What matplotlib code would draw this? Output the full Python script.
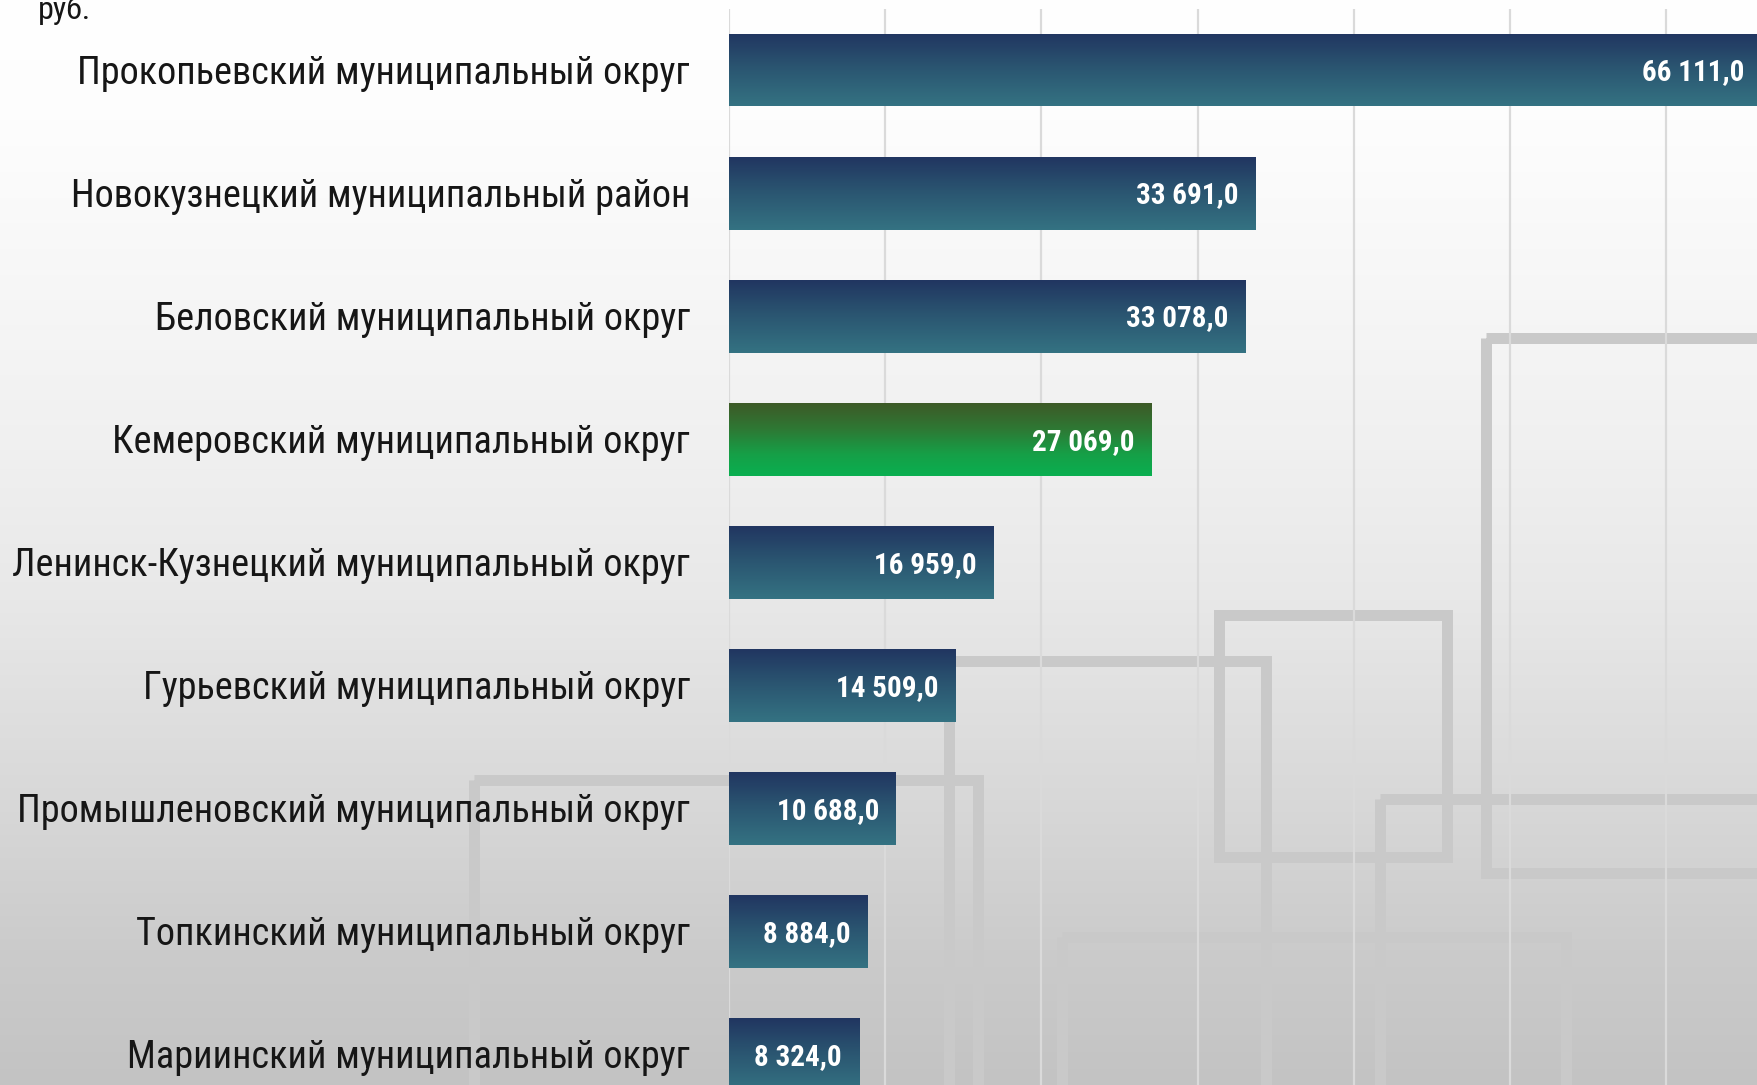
import numpy as np
import matplotlib
matplotlib.use("Agg")
import matplotlib.pyplot as plt
from matplotlib.colors import LinearSegmentedColormap
from matplotlib.patches import Rectangle

# ---------------- data ----------------
categories = [
    "Прокопьевский муниципальный округ",
    "Новокузнецкий муниципальный район",
    "Беловский муниципальный округ",
    "Кемеровский муниципальный округ",
    "Ленинск-Кузнецкий муниципальный округ",
    "Гурьевский муниципальный округ",
    "Промышленовский муниципальный округ",
    "Топкинский муниципальный округ",
    "Мариинский муниципальный округ",
]
values = [66111.0, 33691.0, 33078.0, 27069.0, 16959.0, 14509.0, 10688.0, 8884.0, 8324.0]
highlight = "Кемеровский муниципальный округ"
unit_label = "руб."

W, H = 1758, 1085
DPI = 100
NARROW = ["Roboto Condensed", "PT Sans Narrow", "DejaVu Sans"]

def fmt(v):
    s = f"{v:,.1f}"
    return s.replace(",", " ").replace(".", ",")

fig = plt.figure(figsize=(W / DPI, H / DPI), dpi=DPI)

# ---------------- background ----------------
bg = fig.add_axes([0, 0, 1, 1], zorder=0)
bg.set_xlim(0, W)
bg.set_ylim(H, 0)
bg.axis("off")
stops_y = [0, 120, 300, 450, 600, 800, 950, 1085]
stops_v = [255, 253, 246, 240, 232, 216, 203, 195]
col = np.interp(np.arange(H), stops_y, stops_v) / 255.0
grad = np.repeat(col[:, None], 2, axis=1)
bg.imshow(np.dstack([grad, grad, grad]), extent=(0, W, H, 0), aspect="auto",
          interpolation="bilinear", zorder=0)

# decorative square frames (outer left, outer top, outer right, outer bottom) in pixels
frames = [
    (1481, 332, 1900, 878),
    (1214, 609, 1453, 862),
    (944, 655, 1272, 1200),
    (1375, 793, 1900, 1200),
    (1057, 931, 1572, 1200),
    (469, 774, 984, 1200),
]
lw_px = 11
for (x0, y0, x1, y1) in frames:
    r = Rectangle((x0 + lw_px / 2, y0 + lw_px / 2), (x1 - x0) - lw_px, (y1 - y0) - lw_px,
                  fill=False, edgecolor="#c9c9c9", linewidth=lw_px * 72 / DPI,
                  joinstyle="miter", zorder=1)
    bg.add_patch(r)

# ---------------- main axes ----------------
left_px = 729
top_px = 8.5
ax = fig.add_axes([left_px / W, 0, 1 - left_px / W, (H - top_px) / H], zorder=2)
ax.patch.set_alpha(0)

y = np.arange(len(categories))
bar_h = 0.593
xmax = 65880

blue_cmap = LinearSegmentedColormap.from_list(
    "b", [(0, "#213661"), (0.45, "#2a5470"), (1.0, "#347282")])
green_cmap = LinearSegmentedColormap.from_list(
    "g", [(0, "#3d5a27"), (0.35, "#2e7834"), (0.7, "#169f47"), (1.0, "#0aaf50")])

bars = ax.barh(y, values, height=bar_h, color="none", edgecolor="none", zorder=3)
gy = np.linspace(0, 1, 64)
for cat, v, yi, b in zip(categories, values, y, bars):
    cmap = green_cmap if cat == highlight else blue_cmap
    img = cmap(gy)[:, None, :]
    im = ax.imshow(img, extent=(0, v, yi - bar_h / 2, yi + bar_h / 2), origin="lower",
                   aspect="auto", interpolation="bilinear", zorder=3)
    im.set_clip_path(b)
    ax.annotate(fmt(v), xy=(v, yi), xytext=(-17, -10.5), textcoords="offset pixels",
                ha="right", va="baseline", color="white", fontsize=21,
                fontweight="bold", family=NARROW, zorder=5, annotation_clip=False)
    ax.annotate(cat, xy=(0, yi), xytext=(-39, -14), textcoords="offset pixels",
                ha="right", va="baseline", color="#161616", fontsize=27.5,
                family=NARROW, zorder=5, annotation_clip=False)

ax.set_xticks(np.arange(0, 70001, 10000))
ax.set_xlim(0, xmax)
ax.set_ylim(len(categories) - 1 + 0.25, -0.5)
ax.set_yticks([])
ax.tick_params(axis="x", length=0, labelbottom=False)
ax.grid(axis="x", color="#dadada", linewidth=1.6, zorder=1)
ax.set_axisbelow(True)
for s in ax.spines.values():
    s.set_visible(False)

fig.text(38 / W, 1 - 19 / H, unit_label, ha="left", va="baseline", fontsize=23,
         family=NARROW, color="#161616", zorder=6)

fig.savefig("out.png", dpi=DPI)
